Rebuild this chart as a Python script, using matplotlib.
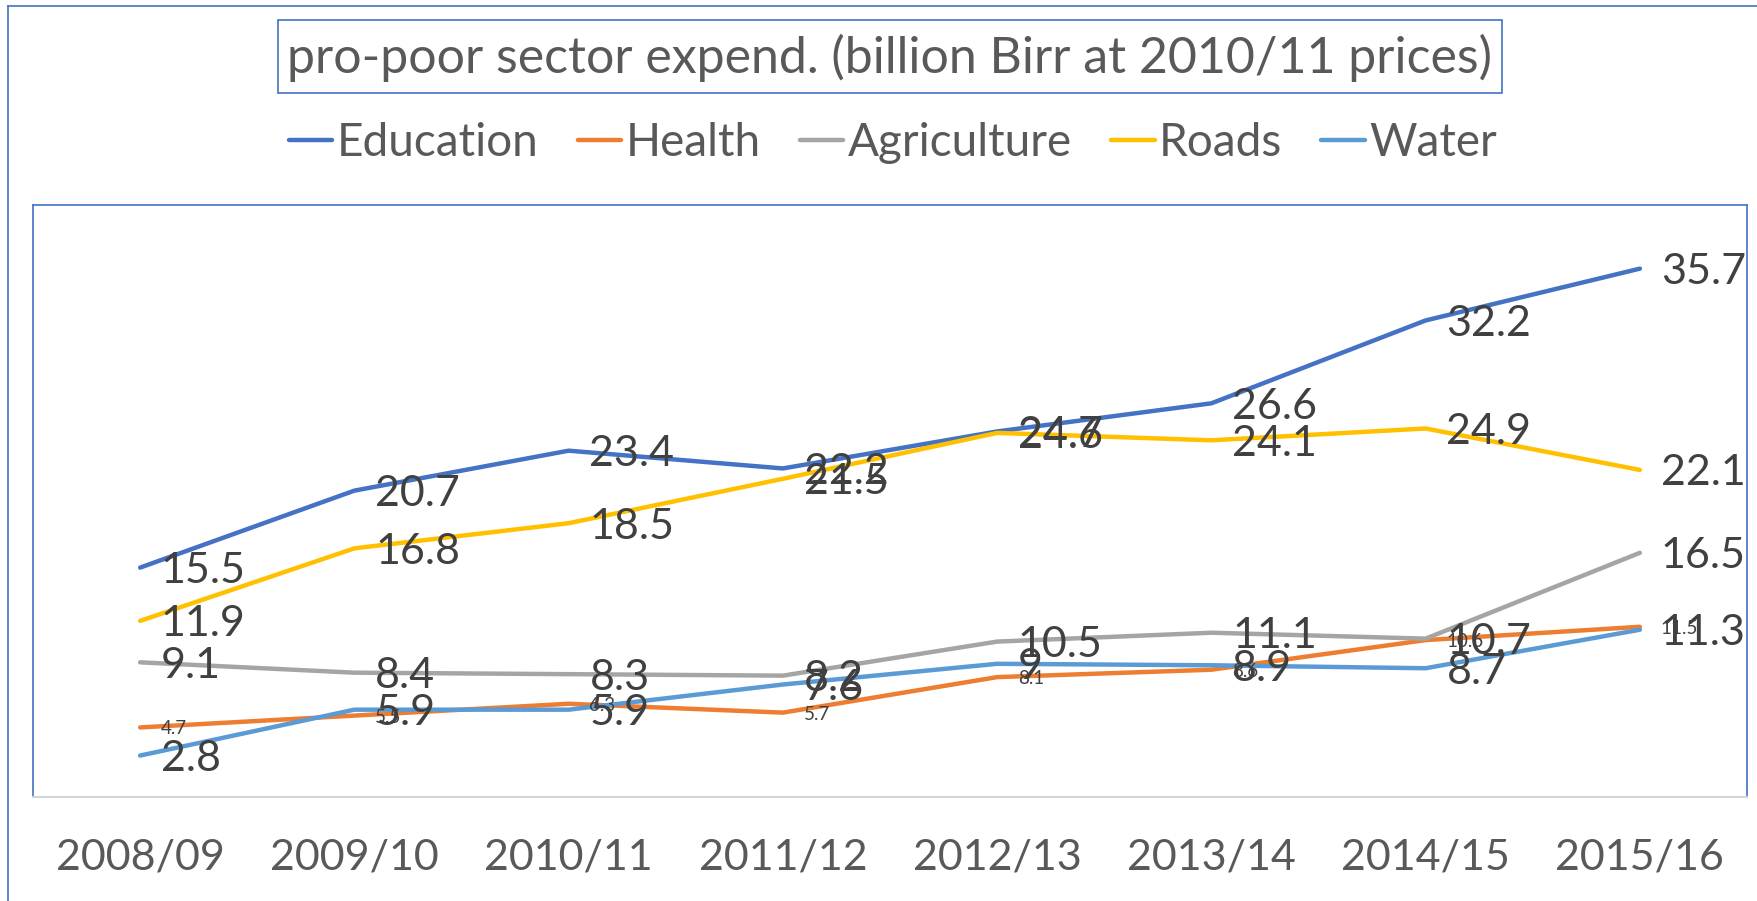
import matplotlib

matplotlib.use("Agg")
import matplotlib.pyplot as plt
from matplotlib.lines import Line2D
from matplotlib.patches import Rectangle

W, H = 1758, 901

YEARS = ["2008/09", "2009/10", "2010/11", "2011/12",
         "2012/13", "2013/14", "2014/15", "2015/16"]
EDUCATION = [15.5, 20.7, 23.4, 22.2, 24.7, 26.6, 32.2, 35.7]
HEALTH = [4.7, 5.5, 6.3, 5.7, 8.1, 8.6, 10.6, 11.5]
AGRICULTURE = [9.1, 8.4, 8.3, 8.2, 10.5, 11.1, 10.7, 16.5]
ROADS = [11.9, 16.8, 18.5, 21.5, 24.6, 24.1, 24.9, 22.1]
WATER = [2.8, 5.9, 5.9, 7.6, 9, 8.9, 8.7, 11.3]

SERIES = [
    ("Education", EDUCATION, "#4472C4", 31),
    ("Health", HEALTH, "#ED7D31", 13.5),
    ("Agriculture", AGRICULTURE, "#A5A5A5", 31),
    ("Roads", ROADS, "#FFC000", 31),
    ("Water", WATER, "#5B9BD5", 31),
]
TITLE = "pro-poor sector expend. (billion Birr at 2010/11 prices)"

plt.rcParams["font.family"] = ["Lato", "DejaVu Sans"]

fig = plt.figure(figsize=(W / 100, H / 100), dpi=100)


def fx(px):
    return px / W


def fy(py):
    return 1 - py / H


# outer chart frame (left and top edges visible)
fig.add_artist(Line2D([fx(8), fx(8)], [fy(6), 0], color="#4472C4", lw=1.2))
fig.add_artist(Line2D([fx(8), 1], [fy(6), fy(6)], color="#4472C4", lw=1.2))

ax = fig.add_axes([fx(33), fy(797), fx(1747) - fx(33), fy(205) - fy(797)])
x = list(range(len(YEARS)))
for name, values, color, _ in SERIES:
    ax.plot(x, values, color=color, lw=3.2, label=name, solid_capstyle="round")

for name, values, color, size in SERIES:
    for xi, v in zip(x, values):
        ax.annotate(f"{v:g}", (xi, v), xytext=(15, 0), textcoords="offset points",
                    ha="left", va="center_baseline", fontsize=size, color="#404040",
                    zorder=5, annotation_clip=False)

ax.set_xlim(-0.5, len(YEARS) - 0.5)
ax.set_ylim(0, 40)
ax.set_yticks([])
ax.set_xticks(x, YEARS)
ax.tick_params(axis="x", length=0, pad=30, labelsize=31, labelcolor="#595959")
for side in ("left", "top", "right"):
    ax.spines[side].set_color("#4472C4")
    ax.spines[side].set_linewidth(1.2)
ax.spines["bottom"].set_color("#D0D4DC")
ax.spines["bottom"].set_linewidth(1.5)

# title with boxed frame
fig.add_artist(Rectangle((fx(278), fy(93)), fx(1502) - fx(278), fy(20) - fy(93),
                         fill=False, edgecolor="#4472C4", lw=1.2))
fig.text(fx(890), fy(58), TITLE, ha="center", va="center", fontsize=36, color="#595959")

handles, labels = ax.get_legend_handles_labels()
fig.legend(handles, labels, loc="center", bbox_to_anchor=(fx(893), fy(143)), ncol=5,
           frameon=False, fontsize=33, labelcolor="#595959", handlelength=0.95,
           handletextpad=0.1, columnspacing=0.85)

fig.savefig("out.png", dpi=100)
